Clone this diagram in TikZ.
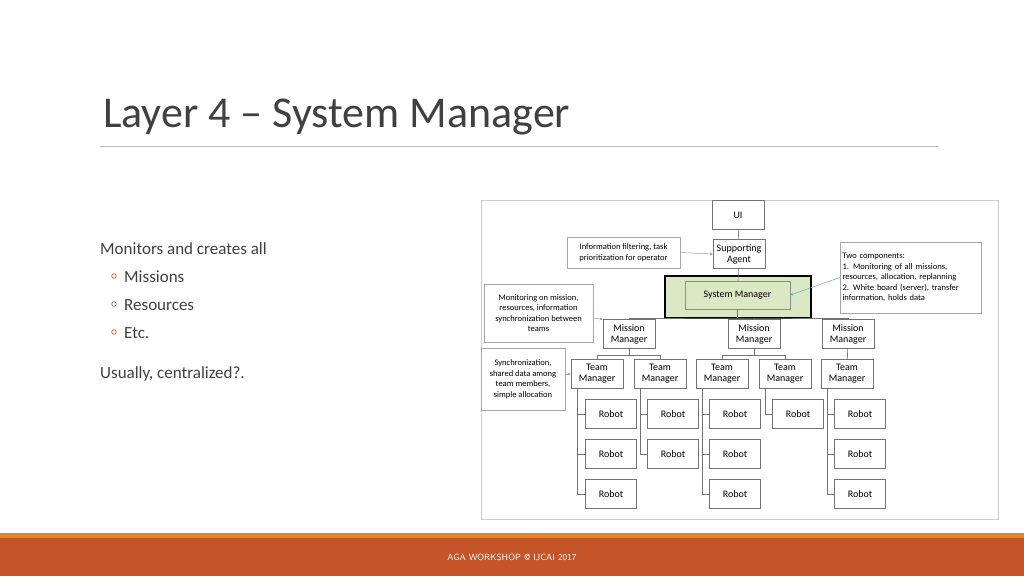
\documentclass[tikz,border=0pt]{standalone}
\usepackage{fontspec}
\setmainfont{Carlito}
\usetikzlibrary{arrows.meta}
\definecolor{txt}{RGB}{64,64,64}
\definecolor{foot}{RGB}{196,85,40}
\definecolor{footlt}{RGB}{230,130,40}
\definecolor{smfill}{RGB}{218,232,196}
\definecolor{arr}{RGB}{120,160,210}
\begin{document}
\begin{tikzpicture}[x=1pt,y=-1pt,
  bx/.style={draw=black!55,fill=white,line width=0.6pt,align=center,font=\fontsize{10}{11}\selectfont,inner sep=1pt},
  nb/.style={bx,minimum width=52pt,minimum height=29pt},
  rb/.style={bx,minimum width=51pt,minimum height=29pt},
  note/.style={bx,font=\fontsize{8.5}{10.5}\selectfont,draw=black!35},
  ln/.style={draw=black!55,line width=0.6pt},
  an/.style={draw=arr,line width=0.5pt,-{Stealth[length=3pt,width=3pt]}}]
\useasboundingbox (0,0) rectangle (1024,576);
\fill[white] (0,0) rectangle (1024,576);
% title
\node[anchor=base west,text=txt,font=\fontsize{44}{48}\selectfont,inner sep=0] (title) at (103,127) {Layer 4 – System Manager};
\draw[black!25,line width=0.8pt] (100,146) -- (938,146);
% bullets
\begin{scope}[text=txt,font=\fontsize{17}{20}\selectfont]
\node[anchor=base west,inner sep=0] (t1) at (100,254) {Monitors and creates all};
\node[anchor=base west,inner sep=0] (t2) at (124,282) {Missions};
\node[anchor=base west,inner sep=0] (t3) at (124,310) {Resources};
\node[anchor=base west,inner sep=0] (t4) at (124,338) {Etc.};
\node[anchor=base west,inner sep=0] (t5) at (100,378) {Usually, centralized?.};
\end{scope}
\foreach \y in {276,304,332} \draw[foot,line width=0.7pt] (114,\y) circle (2.3);
% diagram frame
\draw[black!20,line width=0.8pt] (481,200) rectangle (998,519);
% system manager
\draw[black,line width=1.4pt,fill=smfill] (665,276) rectangle (811,318);
\node[bx,draw=black!45,fill=smfill,minimum width=105pt,minimum height=28pt] (sm) at (737.5,295) {System Manager};
\node[nb] (ui) at (738,215) {UI};
\node[nb] (sa) at (739,254) {Supporting\\Agent};
\node[nb] (mm1) at (629,334) {Mission\\Manager};
\node[nb] (mm2) at (754,334) {Mission\\Manager};
\node[nb] (mm3) at (848,334) {Mission\\Manager};
\foreach \i/\x in {1/597,2/660,3/722,4/785,5/847}
  \node[nb] (tm\i) at (\x,374) {Team\\Manager};
% robots
\foreach \n/\x/\y in {r11/611/414,r12/611/454,r13/611/494,r21/673/414,r22/673/454,r31/735/414,r32/735/454,r33/735/494,r41/798/414,r51/860/414,r52/860/454,r53/860/494}
  \node[rb] (\n) at (\x,\y) {Robot};
% connectors
\draw[ln] (ui) -- (sa);
\draw[ln] (sa) -- (sm);
\coordinate (b0) at (738,318);
\draw[ln] (sm.south) -- (737.5,318);
\draw[ln] (mm1.north) |- (737.5,318) -| (mm3.north);
\draw[ln] (mm2.north) -- (754,318);
\draw[ln] (mm1.south) -- (629,355) -| (tm1.north);
\draw[ln] (629,355) -| (tm2.north);
\draw[ln] (mm2.south) -- (754,355) -| (tm3.north);
\draw[ln] (754,355) -| (tm4.north);
\draw[ln] (mm3) -- (tm5);
\foreach \t/\x/\a/\b in {tm1/577/r11/r13,tm2/640/r21/r22,tm3/702/r31/r33,tm4/765/r41/r41,tm5/827/r51/r53}{
  \draw[ln] (\t.south -| \x,0) |- (\b.west);
}
\foreach \x/\r in {577/r11,577/r12,640/r21,702/r31,702/r32,827/r51,827/r52}
  \draw[ln] (\x,0 |- \r.west) -- (\r.west);
% notes
\node[note,minimum width=113pt,minimum height=31pt] (n1) at (623.5,252.5) {Information filtering, task\\prioritization for operator};
\node[note,align=left,minimum width=141pt,minimum height=71pt,text width=136pt] (n2) at (910.5,277.5) {Two components:\\1. Monitoring of all missions,\\resources, allocation, replanning\\2. White board (server), transfer\\information, holds data};
\node[note,minimum width=109pt,minimum height=58pt] (n3) at (538.5,313) {Monitoring on mission,\\resources, information\\synchronization between\\teams};
\node[note,minimum width=84pt,minimum height=62pt] (n4) at (523,379) {Synchronization,\\shared data among\\team members,\\simple allocation};
\draw[an] (n1.east) -- (sa.west);
\draw[an] (n2.west) -- (sm.east);
\draw[an] (n3.east |- 0,318) -- (mm1.north west);
\draw[an] (n4.east |- tm1.west) -- (tm1.west);
% footer
\fill[footlt] (0,533) rectangle (1024,538);
\fill[foot] (0,538) rectangle (1024,576);
\node[text=white,font=\sffamily\fontsize{9}{10}\selectfont] (ft) at (512,557) {AGA WORKSHOP @ IJCAI 2017};
\end{tikzpicture}
\end{document}
